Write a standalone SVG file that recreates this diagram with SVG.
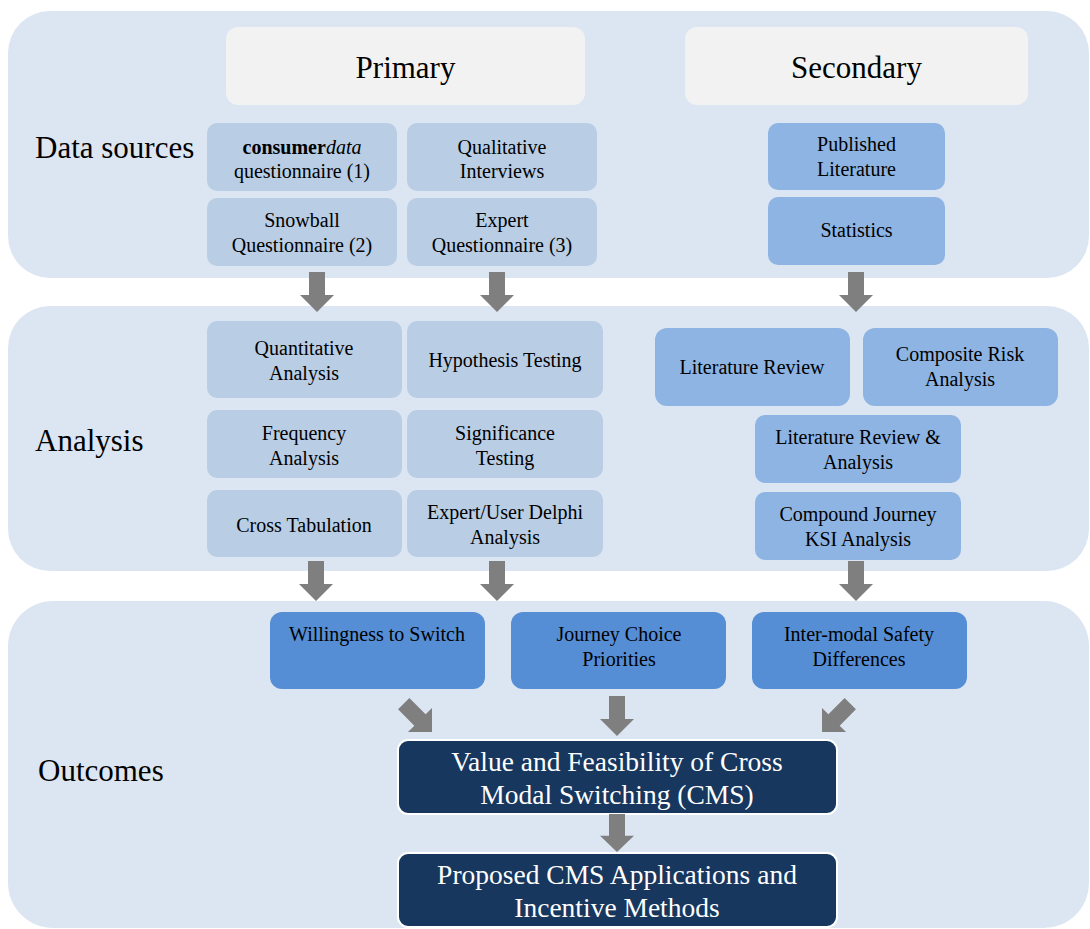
<svg xmlns="http://www.w3.org/2000/svg" width="1090" height="929" viewBox="0 0 1090 929">
<defs>
<style>
text{font-family:"Liberation Serif","Times New Roman",serif;fill:#000;text-anchor:middle}
.band{fill:#dce6f2}
.hdr{fill:#f2f2f2}
.lt{fill:#b9cde5}
.sec{fill:#8eb4e3}
.out{fill:#558ed5}
.dk{fill:#17375e;stroke:#fff;stroke-width:2}
.t{font-size:20px}
.big{font-size:31px}
.lbl{font-size:31px;text-anchor:start}
.w{font-size:27.5px;fill:#fff}
.arr{fill:#7f7f7f}
</style>
<path id="ar" d="M-8,-40 H8 V-17 H17 L0,0 L-17,-17 H-8 Z"/>
</defs>
<rect width="1090" height="929" fill="#fff"/>
<g id="bands">
<rect class="band" x="8" y="11" width="1081" height="267" rx="42"/>
<rect class="band" x="8" y="306" width="1081" height="265" rx="42"/>
<rect class="band" x="8" y="601" width="1081" height="327" rx="45"/>
</g>
<g id="labels">
<text class="lbl" x="35" y="158">Data sources</text>
<text class="lbl" x="35" y="451">Analysis</text>
<text class="lbl" x="38" y="781">Outcomes</text>
</g>
<g id="primary"><rect class="hdr" x="226" y="27" width="359" height="78" rx="12"/><text class="big" x="405.5" y="78">Primary</text></g>
<g id="secondary"><rect class="hdr" x="685" y="27" width="343" height="78" rx="12"/><text class="big" x="856.5" y="78">Secondary</text></g>
<g id="consumerdata"><rect class="lt" x="207" y="123" width="190" height="68" rx="10"/><text class="t" x="302" y="154"><tspan font-weight="bold">consumer</tspan><tspan font-style="italic">data</tspan></text><text class="t" x="302" y="178">questionnaire (1)</text></g>
<g id="qualitative"><rect class="lt" x="407" y="123" width="190" height="68" rx="10"/><text class="t" x="502" y="154">Qualitative</text><text class="t" x="502" y="178">Interviews</text></g>
<g id="snowball"><rect class="lt" x="207" y="198" width="190" height="68" rx="10"/><text class="t" x="302" y="227">Snowball</text><text class="t" x="302" y="252">Questionnaire (2)</text></g>
<g id="expertq"><rect class="lt" x="407" y="198" width="190" height="68" rx="10"/><text class="t" x="502" y="227">Expert</text><text class="t" x="502" y="252">Questionnaire (3)</text></g>
<g id="published"><rect class="sec" x="768" y="123" width="177" height="67" rx="10"/><text class="t" x="856.5" y="151">Published</text><text class="t" x="856.5" y="176">Literature</text></g>
<g id="statistics"><rect class="sec" x="768" y="197" width="177" height="68" rx="10"/><text class="t" x="856.5" y="237">Statistics</text></g>
<g id="quantitative"><rect class="lt" x="207" y="321" width="195" height="77" rx="10"/><text class="t" x="304" y="355">Quantitative</text><text class="t" x="304" y="380">Analysis</text></g>
<g id="hypothesis"><rect class="lt" x="407" y="321" width="196" height="77" rx="10"/><text class="t" x="505" y="367">Hypothesis Testing</text></g>
<g id="frequency"><rect class="lt" x="207" y="410" width="195" height="68" rx="10"/><text class="t" x="304" y="440">Frequency</text><text class="t" x="304" y="465">Analysis</text></g>
<g id="significance"><rect class="lt" x="407" y="410" width="196" height="68" rx="10"/><text class="t" x="505" y="440">Significance</text><text class="t" x="505" y="465">Testing</text></g>
<g id="crosstab"><rect class="lt" x="207" y="490" width="195" height="67" rx="10"/><text class="t" x="304" y="532">Cross Tabulation</text></g>
<g id="delphi"><rect class="lt" x="407" y="490" width="196" height="67" rx="10"/><text class="t" x="505" y="519">Expert/User Delphi</text><text class="t" x="505" y="544">Analysis</text></g>
<g id="litreview"><rect class="sec" x="655" y="328" width="195" height="78" rx="12"/><text class="t" x="752" y="374">Literature Review</text></g>
<g id="composite"><rect class="sec" x="863" y="328" width="195" height="78" rx="12"/><text class="t" x="960" y="361">Composite Risk</text><text class="t" x="960" y="386">Analysis</text></g>
<g id="litanalysis"><rect class="sec" x="755" y="415" width="206" height="68" rx="10"/><text class="t" x="858" y="444">Literature Review &amp;</text><text class="t" x="858" y="469">Analysis</text></g>
<g id="compound"><rect class="sec" x="755" y="492" width="206" height="68" rx="10"/><text class="t" x="858" y="521">Compound Journey</text><text class="t" x="858" y="546">KSI Analysis</text></g>
<g id="willingness"><rect class="out" x="270" y="612" width="215" height="77" rx="12"/><text class="t" x="377" y="641">Willingness to Switch</text></g>
<g id="journey"><rect class="out" x="511" y="612" width="215" height="77" rx="12"/><text class="t" x="619" y="641">Journey Choice</text><text class="t" x="619" y="666">Priorities</text></g>
<g id="intermodal"><rect class="out" x="752" y="612" width="215" height="77" rx="12"/><text class="t" x="859" y="641">Inter-modal Safety</text><text class="t" x="859" y="666">Differences</text></g>
<g id="value"><rect class="dk" x="398" y="740" width="439" height="74" rx="10"/><text class="w" x="617" y="771">Value and Feasibility of Cross</text><text class="w" x="617" y="804">Modal Switching (CMS)</text></g>
<g id="proposed"><rect class="dk" x="398" y="853" width="439" height="74" rx="10"/><text class="w" x="617" y="884">Proposed CMS Applications and</text><text class="w" x="617" y="917">Incentive Methods</text></g>
<g id="connectors" class="arr">
<use href="#ar" transform="translate(317,312)"/>
<use href="#ar" transform="translate(497,312)"/>
<use href="#ar" transform="translate(856,312)"/>
<use href="#ar" transform="translate(316,601)"/>
<use href="#ar" transform="translate(497,601)"/>
<use href="#ar" transform="translate(856,601)"/>
<use href="#ar" transform="translate(432,732) rotate(-45)"/>
<use href="#ar" transform="translate(617,736)"/>
<use href="#ar" transform="translate(822,732) rotate(45)"/>
<use href="#ar" transform="translate(617,852) scale(1,0.95)"/>
</g>
</svg>
